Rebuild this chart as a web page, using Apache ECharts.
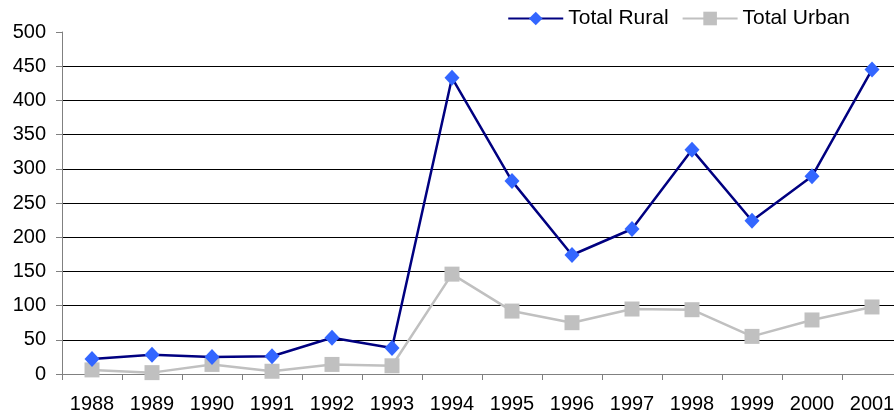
<!DOCTYPE html>
<html>
<head>
<meta charset="utf-8">
<script src="https://cdn.jsdelivr.net/npm/echarts@6/dist/echarts.min.js"></script>
<style>
  html, body { margin: 0; padding: 0; background: #fff; overflow: hidden; }
  #wrap { width: 894px; height: 419px; overflow: hidden; }
  /* the plot runs past the right edge in the reference, so draw wider and clip */
  #chart { width: 910px; height: 419px; }
</style>
</head>
<body>
<div id="wrap"><div id="chart"></div></div>
<script>
const years = ["1988", "1989", "1990", "1991", "1992", "1993", "1994",
  "1995", "1996", "1997", "1998", "1999", "2000", "2001"];
const totalRural = [22, 28, 25, 26, 53, 38, 433, 282, 174, 212, 328, 224, 289, 445];
const totalUrban = [6, 2, 14, 4, 14, 12, 146, 92, 75, 95, 94, 55, 79, 98];

const font = "'Liberation Sans', Arial, sans-serif";
const chart = echarts.init(document.getElementById("chart"), null, { renderer: "canvas" });

chart.setOption({
  animation: false,
  textStyle: { fontFamily: font },
  legend: {
    top: 3,
    right: 55,
    itemWidth: 55,
    itemHeight: 17,
    itemGap: 13,
    textStyle: { fontFamily: font, fontSize: 21, color: "#000" },
    data: ["Total Rural", "Total Urban"],
  },
  grid: {
    left: 62,
    top: 32,
    width: 840,
    bottom: 45,
  },
  xAxis: {
    type: "category",
    data: years,
    boundaryGap: true,
    axisLine: { lineStyle: { color: "#808080", width: 1 } },
    axisTick: { show: true, length: 6, inside: false, lineStyle: { color: "#808080" } },
    axisLabel: { color: "#000", fontSize: 20, fontFamily: font, margin: 20, interval: 0 },
    splitLine: { show: false },
  },
  yAxis: {
    type: "value",
    min: 0,
    max: 500,
    interval: 50,
    axisLine: { show: true, lineStyle: { color: "#808080", width: 1 } },
    axisTick: { show: true, length: 6, lineStyle: { color: "#808080" } },
    axisLabel: { color: "#000", fontSize: 20, fontFamily: font, margin: 16 },
    splitLine: {
      show: true,
      showMinLine: false,
      showMaxLine: false,
      lineStyle: { color: "#000", width: 1 },
    },
  },
  series: [
    {
      name: "Total Rural",
      type: "line",
      data: totalRural,
      symbol: "diamond",
      symbolSize: [15, 16],
      lineStyle: { color: "#000080", width: 2.5 },
      itemStyle: { color: "#3366FF", borderWidth: 0 },
      z: 3,
    },
    {
      name: "Total Urban",
      type: "line",
      data: totalUrban,
      symbol: "rect",
      symbolSize: 15,
      lineStyle: { color: "#C0C0C0", width: 2.5 },
      itemStyle: { color: "#C0C0C0", borderWidth: 0 },
      z: 2,
    },
  ],
});
</script>
</body>
</html>
